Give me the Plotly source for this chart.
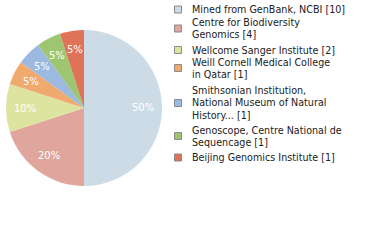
import math
import plotly.graph_objects as go

labels = ["Mined from GenBank, NCBI [10]",
          "Centre for Biodiversity<br>Genomics [4]",
          "Wellcome Sanger Institute [2]",
          "Weill Cornell Medical College<br>in Qatar [1]",
          "Smithsonian Institution,<br>National Museum of Natural<br>History... [1]",
          "Genoscope, Centre National de<br>Sequencage [1]",
          "Beijing Genomics Institute [1]"]
values = [10, 4, 2, 1, 1, 1, 1]
colors = ["#cddbe7", "#e0a59c", "#dde4a0", "#f0aa70", "#9cb9df", "#9ec570", "#df735a"]

W, H = 380, 240
CX, CY, R = 84, 108, 78

fig = go.Figure()
fig.add_trace(go.Pie(
    labels=labels, values=values, sort=False, direction="clockwise", rotation=0,
    marker=dict(colors=colors, line=dict(width=0)),
    textinfo="none", hoverinfo="label+value", showlegend=False,
    domain=dict(x=[(CX - R) / W, (CX + R) / W], y=[1 - (CY + R) / H, 1 - (CY - R) / H]),
))

# percentage labels placed at slice mid-angles
total = sum(values)
cum = 0
for v in values:
    mid = (cum + v / 2) / total * 2 * math.pi
    cum += v
    px = CX + 0.76 * R * math.sin(mid)
    py = CY - 0.76 * R * math.cos(mid)
    fig.add_annotation(x=px / W, y=1 - py / H, xref="paper", yref="paper",
                       text=f"{round(100 * v / total)}%", showarrow=False,
                       xanchor="center", yanchor="middle",
                       font=dict(family="DejaVu Sans", size=10, color="white"))

# manual legend
legend_cy = [9.5, 28.5, 50, 68, 103, 136, 157.5]
for lab, col, cy in zip(labels, colors, legend_cy):
    fig.add_shape(type="rect", xref="paper", yref="paper",
                  x0=174.5 / W, x1=181.5 / W, y0=1 - (cy - 3.5) / H, y1=1 - (cy + 3.5) / H,
                  fillcolor=col, line=dict(color="#8a8a8a", width=1))
    fig.add_annotation(x=190 / W, y=1 - cy / H, xref="paper", yref="paper",
                       text=lab, showarrow=False, xanchor="left", yanchor="middle", align="left",
                       font=dict(family="DejaVu Sans", size=9.6, color="#222222"))

fig.update_layout(width=W, height=H, margin=dict(l=0, r=0, t=0, b=0),
                  paper_bgcolor="white", plot_bgcolor="white")
fig.write_html("out.html")
